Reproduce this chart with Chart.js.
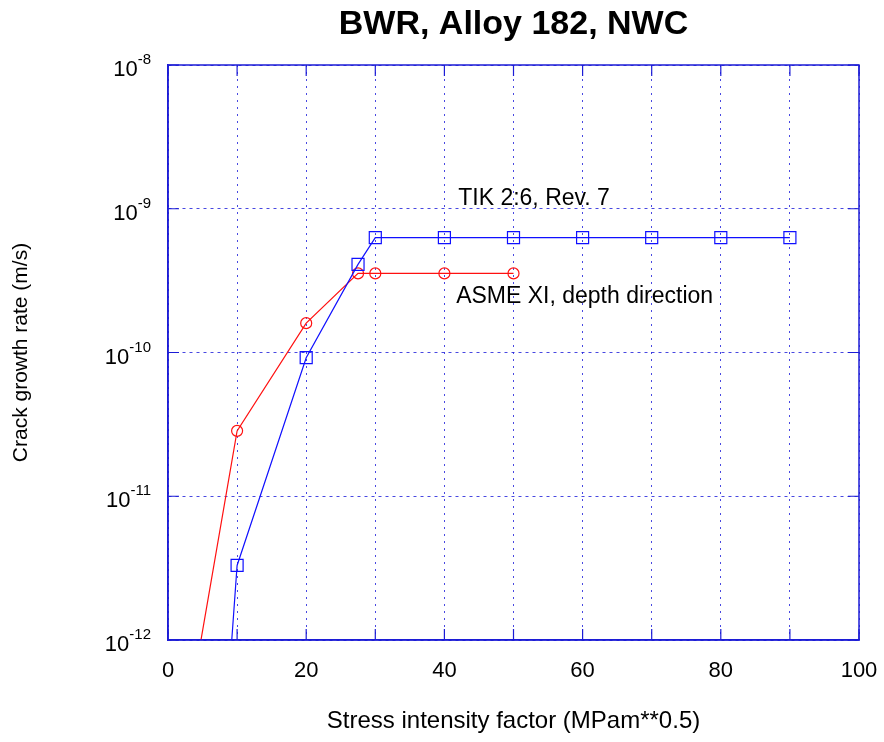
<!DOCTYPE html>
<html>
<head>
<meta charset="utf-8">
<script src="https://cdn.jsdelivr.net/npm/chart.js@4.4.0/dist/chart.umd.min.js"></script>
<style>
  html, body { margin: 0; padding: 0; background: #fff; }
</style>
</head>
<body>
<canvas id="chart" width="884" height="742"></canvas>
<script>
// TIK 2:6, Rev. 7 curve (squares)
const tikK = [8, 10, 20, 27.5, 30, 40, 50, 60, 70, 80, 90];
const tikRate = [1.5e-13, 3.3e-12, 9.2e-11, 4.1e-10, 6.3e-10, 6.3e-10, 6.3e-10, 6.3e-10, 6.3e-10, 6.3e-10, 6.3e-10];

// ASME XI, depth direction (circles)
const asmeK = [0, 10, 20, 27.5, 30, 40, 50];
const asmeRate = [4.7e-14, 2.85e-11, 1.6e-10, 3.55e-10, 3.55e-10, 3.55e-10, 3.55e-10];

const xTickLabels = [0, 20, 40, 60, 80, 100];
const yTickValues = [1e-12, 1e-11, 1e-10, 1e-9, 1e-8];

const chartTitle = "BWR, Alloy 182, NWC";

// curve labels, placed in data units
const tikLabel = { text: "TIK 2:6, Rev. 7", k: 42, rate: 1.17e-9 };
const asmeLabel = { text: "ASME XI, depth direction", k: 41.7, rate: 2.43e-10 };

const FONT = "'Liberation Sans', Arial, Helvetica, sans-serif";
const frameColor = "#1c1cd6";
const gridColor = "rgba(40, 40, 220, 0.85)";

const toPoints = (xs, ys) => xs.map((x, i) => ({ x: x, y: ys[i] }));

const framePlugin = {
  id: "frame",
  afterDraw(chart) {
    const { ctx, chartArea: a, scales } = chart;
    const xs = scales.x, ys = scales.y;
    ctx.save();
    ctx.strokeStyle = frameColor;
    ctx.lineWidth = 1.5;
    ctx.strokeRect(a.left, a.top, a.right - a.left, a.bottom - a.top);

    // inward tick marks
    ctx.lineWidth = 1.2;
    ctx.beginPath();
    xs.ticks.forEach((t) => {
      const px = xs.getPixelForValue(t.value);
      ctx.moveTo(px, a.bottom); ctx.lineTo(px, a.bottom - 11);
      ctx.moveTo(px, a.top); ctx.lineTo(px, a.top + 11);
    });
    yTickValues.forEach((v) => {
      const py = ys.getPixelForValue(v);
      ctx.moveTo(a.left, py); ctx.lineTo(a.left + 11, py);
      ctx.moveTo(a.right, py); ctx.lineTo(a.right - 11, py);
    });
    ctx.stroke();

    // title, centred over the plot area
    ctx.fillStyle = "#000";
    ctx.textBaseline = "alphabetic";
    ctx.textAlign = "center";
    ctx.font = "bold 34px " + FONT;
    ctx.fillText(chartTitle, (a.left + a.right) / 2, 34);

    // y tick labels as 10 with superscript exponent
    yTickValues.forEach((v) => {
      const py = ys.getPixelForValue(v);
      const exp = String(Math.round(Math.log10(v)));
      ctx.font = "15px " + FONT;
      const ew = ctx.measureText(exp).width;
      const right = a.left - 17;
      ctx.textAlign = "left";
      ctx.fillText(exp, right - ew, py - 1);
      ctx.font = "22px " + FONT;
      ctx.textAlign = "right";
      ctx.fillText("10", right - ew, py + 11);
    });

    // curve labels
    ctx.font = "23px " + FONT;
    ctx.textAlign = "left";
    ctx.textBaseline = "middle";
    [tikLabel, asmeLabel].forEach((l) => {
      ctx.fillText(l.text, xs.getPixelForValue(l.k), ys.getPixelForValue(l.rate));
    });
    ctx.restore();
  }
};

new Chart(document.getElementById("chart"), {
  type: "scatter",
  data: {
    datasets: [
      {
        label: "TIK 2:6, Rev. 7",
        data: toPoints(tikK, tikRate),
        showLine: true,
        borderColor: "#1010ff",
        backgroundColor: "rgba(0,0,0,0)",
        borderWidth: 1.2,
        pointStyle: "rect",
        pointRadius: 8.5,
        pointBorderWidth: 1.2,
        pointBorderColor: "#1010ff",
        tension: 0
      },
      {
        label: "ASME XI, depth direction",
        data: toPoints(asmeK, asmeRate),
        showLine: true,
        borderColor: "#ff1010",
        backgroundColor: "rgba(0,0,0,0)",
        borderWidth: 1.2,
        pointStyle: "circle",
        pointRadius: 5.5,
        pointBorderWidth: 1.2,
        pointBorderColor: "#ff1010",
        tension: 0
      }
    ]
  },
  options: {
    responsive: false,
    animation: false,
    layout: { padding: { left: 0, right: 25, top: 65, bottom: 0 } },
    plugins: {
      legend: { display: false },
      tooltip: { enabled: false },
      title: { display: false }
    },
    scales: {
      x: {
        type: "linear",
        min: 0,
        max: 100,
        afterFit: (s) => { s.height = 102; s.paddingLeft = 0; s.paddingRight = 0; },
        ticks: {
          stepSize: 10,
          autoSkip: false,
          maxRotation: 0,
          padding: 18,
          color: "#000",
          font: { family: FONT, size: 22 },
          callback: (v) => (xTickLabels.includes(v) ? String(v) : "")
        },
        grid: { color: gridColor, lineWidth: 1, drawTicks: false },
        border: { display: true, color: frameColor, width: 1.5, dash: [2, 5] },
        title: {
          display: true,
          text: "Stress intensity factor (MPam**0.5)",
          color: "#000",
          font: { family: FONT, size: 24 },
          padding: { top: 0, bottom: 6 }
        }
      },
      y: {
        type: "logarithmic",
        min: 1e-12,
        max: 1e-8,
        afterBuildTicks: (s) => { s.ticks = yTickValues.map((v) => ({ value: v })); },
        afterFit: (s) => { s.width = 168; s.paddingTop = 0; s.paddingBottom = 0; },
        ticks: { display: false },
        grid: { color: gridColor, lineWidth: 1, drawTicks: false },
        border: { display: true, color: frameColor, width: 1.5, dash: [3, 4] },
        title: {
          display: true,
          text: "Crack growth rate (m/s)",
          color: "#000",
          font: { family: FONT, size: 21 },
          padding: { top: 9, bottom: 0 }
        }
      }
    }
  },
  plugins: [framePlugin]
});
</script>
</body>
</html>
